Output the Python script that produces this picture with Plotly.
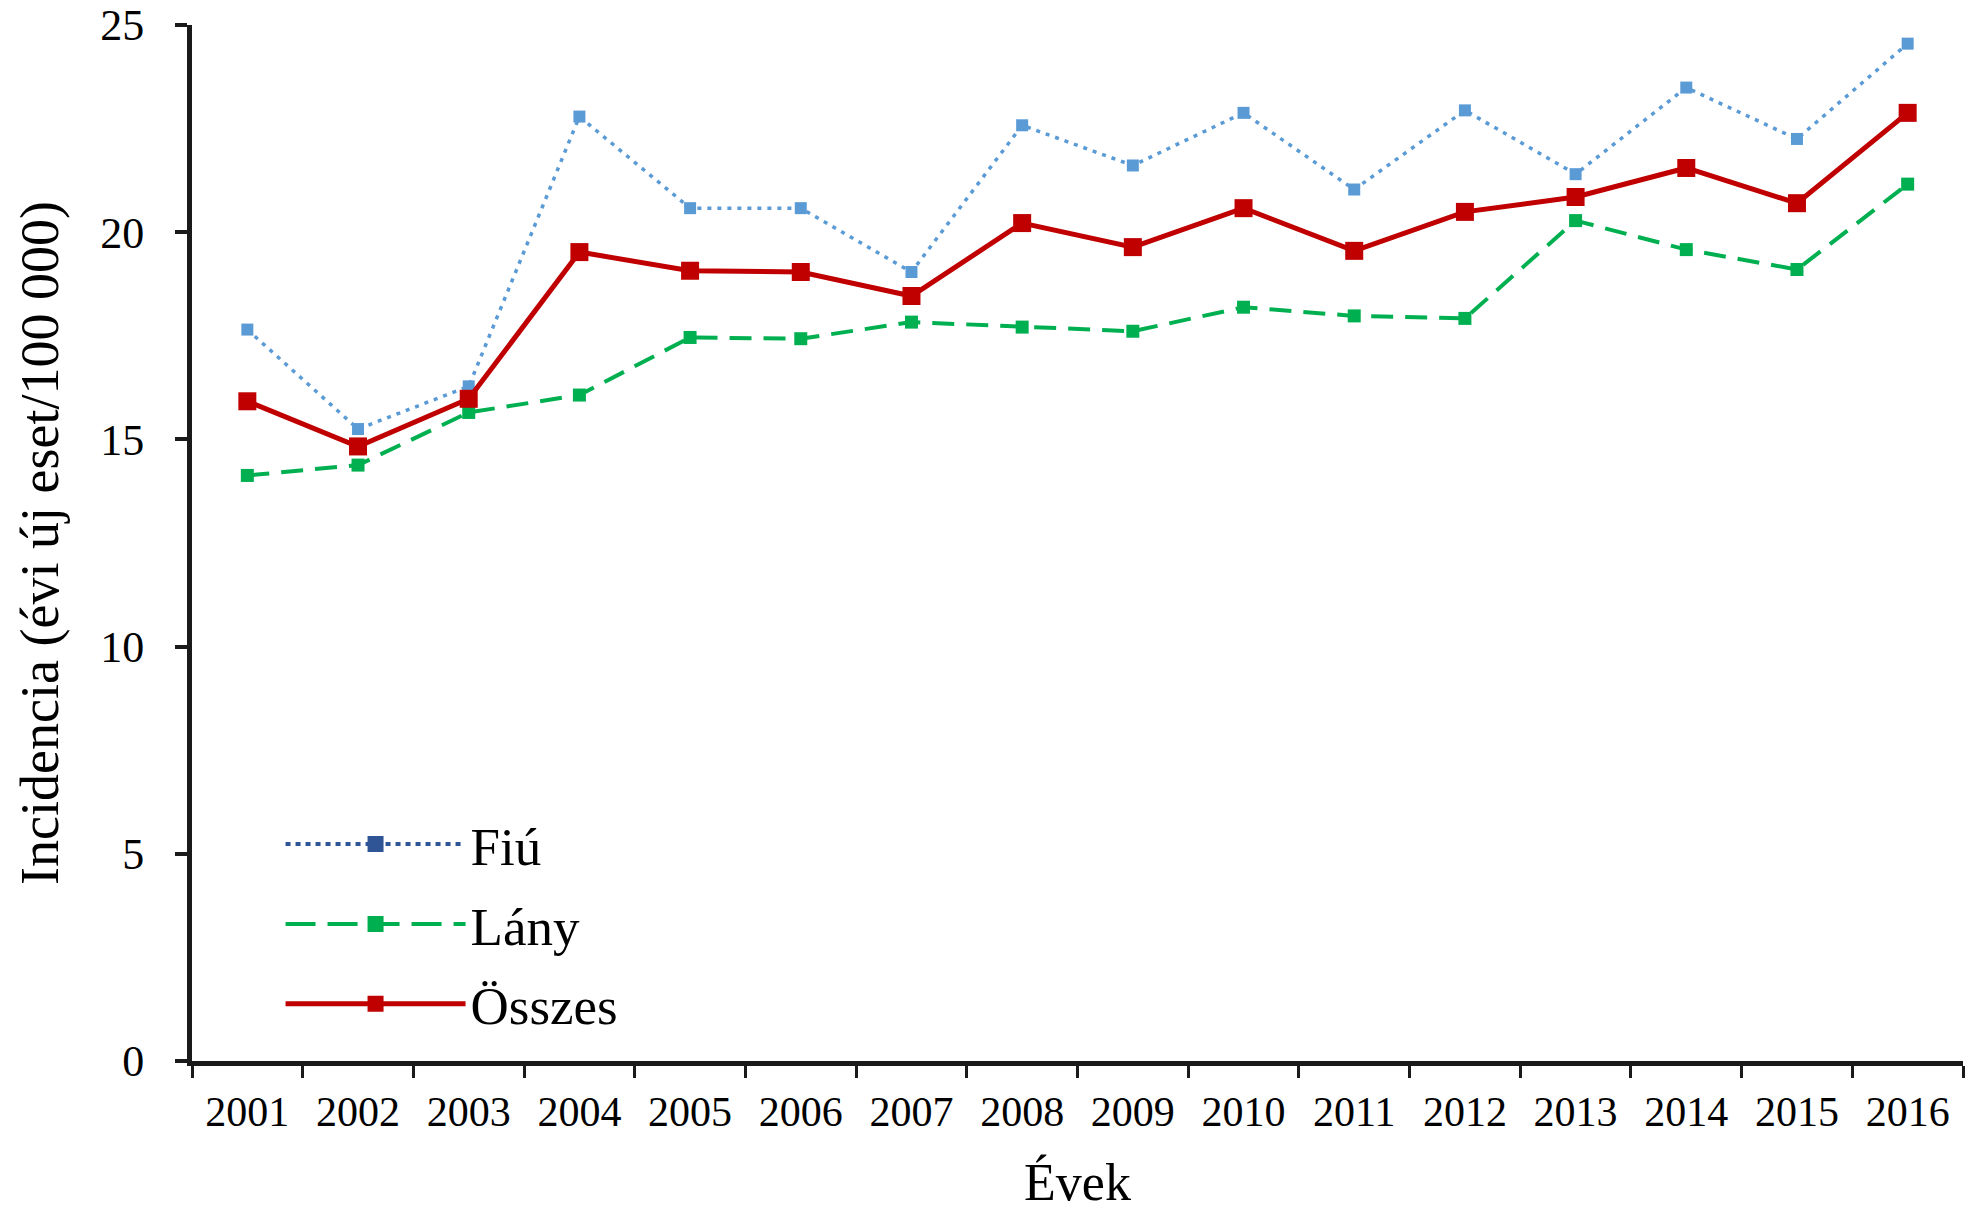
import plotly.graph_objects as go

years = [str(y) for y in range(2001, 2017)]
fiu = [17.65, 15.25, 16.28, 22.79, 20.58, 20.58, 19.04, 22.58, 21.61, 22.88, 21.03, 22.94, 21.40, 23.49, 22.25, 24.55]
lany = [14.13, 14.38, 15.65, 16.07, 17.46, 17.43, 17.83, 17.71, 17.61, 18.19, 17.98, 17.92, 20.28, 19.58, 19.10, 21.16]
osszes = [15.92, 14.83, 15.98, 19.52, 19.07, 19.04, 18.46, 20.22, 19.64, 20.58, 19.55, 20.49, 20.85, 21.55, 20.70, 22.88]
y_ticks = [0, 5, 10, 15, 20, 25]

FONT = "Liberation Serif, Times New Roman, serif"

fig = go.Figure()
# data traces
fig.add_trace(go.Scatter(x=years, y=fiu, mode="lines+markers", name="Fiú", showlegend=False,
                         line=dict(color="#5B9BD5", width=3.5, dash="4px,6px"),
                         marker=dict(symbol="square", size=12, color="#5B9BD5")))
fig.add_trace(go.Scatter(x=years, y=lany, mode="lines+markers", name="Lány", showlegend=False,
                         line=dict(color="#00B050", width=4, dash="22px,12px"),
                         marker=dict(symbol="square", size=13, color="#00B050")))
fig.add_trace(go.Scatter(x=years, y=osszes, mode="lines+markers", name="Összes", showlegend=False,
                         line=dict(color="#C00000", width=5),
                         marker=dict(symbol="square", size=18, color="#C00000")))
# legend entries
fig.add_trace(go.Scatter(x=[None], y=[None], mode="lines+markers", name="Fiú", legendgroup="a",
                         line=dict(color="#2F5597", width=4, dash="5px,5px"),
                         marker=dict(symbol="square", size=20, color="#2F5597")))
fig.add_trace(go.Scatter(x=[None], y=[None], mode="lines+markers", name="Lány", legendgroup="b",
                         line=dict(color="#00B050", width=4, dash="30px,12px"),
                         marker=dict(symbol="square", size=20, color="#00B050")))
fig.add_trace(go.Scatter(x=[None], y=[None], mode="lines+markers", name="Összes", legendgroup="c",
                         line=dict(color="#C00000", width=5),
                         marker=dict(symbol="square", size=20, color="#C00000")))

fig.update_layout(
    width=1966, height=1211,
    margin=dict(l=192, r=3, t=25, b=150),
    plot_bgcolor="white", paper_bgcolor="white",
    font=dict(family=FONT, color="black", size=40),
    legend=dict(x=0.05, y=0.249, xanchor="left", yanchor="top",
                font=dict(family=FONT, size=53), itemwidth=180,
                bgcolor="rgba(0,0,0,0)", tracegroupgap=8),
)
fig.update_xaxes(
    type="category", tickson="boundaries", ticks="outside", ticklen=12, tickwidth=3,
    tickcolor="#1a1a1a", showline=True, linecolor="#1a1a1a", linewidth=5,
    showgrid=False, zeroline=False, range=[-0.5, 15.5], automargin=False,
    tickfont=dict(family=FONT, size=42), ticklabelstandoff=10,
    title=dict(text="Évek", font=dict(family=FONT, size=52), standoff=57),
)
fig.update_yaxes(
    range=[0, 25], tickvals=y_ticks, ticks="outside", ticklen=12, tickwidth=4,
    tickcolor="#1a1a1a", showline=True, linecolor="#1a1a1a", linewidth=5,
    showgrid=False, zeroline=False, ticklabelstandoff=22, automargin=False,
    ticklabeloverflow="allow",
    tickfont=dict(family=FONT, size=44),
    title=dict(text="Incidencia (évi új eset/100 000)", font=dict(family=FONT, size=54), standoff=26),
)

fig.write_html("out.html", config={"displayModeBar": False},
               post_script="document.body.style.margin='0';")
